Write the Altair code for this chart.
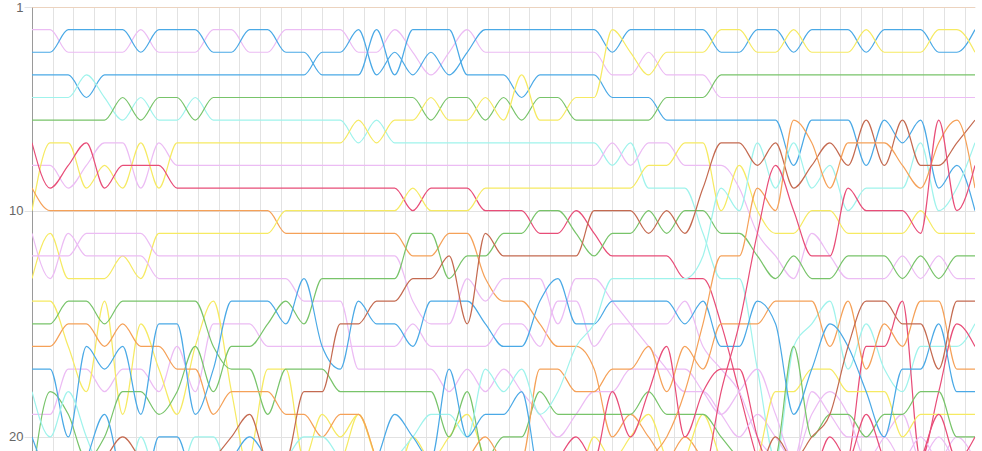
import altair as alt
import pandas as pd

# ---- data: rank of each series at each of 53 steps ----
steps = list(range(53))

peach_a = [1,1,1,1,1,1,1,1,1,1, 1,1,1,1,1,1,1,1,1,1, 1,1,1,1,1,1,1,1,1,1, 1,1,1,1,1,1,1,1,1,1, 1,1,1,1,1,1,1,1,1,1, 1,1,1]
lav_a   = [2,2,3,3,3,3,2,3,3,3, 2,2,3,3,2,2,2,2,3,3, 2,3,4,3,2,3,3,3,3,3, 3,3,4,4,3,4,4,4,5,5, 5,5,5,5,5,5,5,5,5,5, 5,5,5]
blue_a  = [3,3,2,2,2,2,3,2,2,2, 3,3,2,2,3,3,4,4,4,2, 4,2,2,2,4,4,4,5,4,4, 4,4,5,5,5,6,6,6,6,6, 6,6,8,6,6,6,8,6,7,6, 9,8,10]
blue_b  = [4,4,4,5,4,4,4,4,4,4, 4,4,4,4,4,4,3,3,2,4, 3,4,3,4,3,2,2,2,2,2, 2,2,3,2,2,2,2,2,3,3, 2,2,3,2,2,2,3,2,2,2, 3,3,2]
cyan_a  = [5,5,5,4,5,6,5,6,6,5, 6,6,6,6,6,6,6,6,7,6, 7,7,7,7,7,7,7,7,7,7, 7,7,8,7,9,9,9,11,13,13, 17,21,16,15,14,17,15,17,18,16, 16,16,15]
green_a = [6,6,6,6,6,5,6,5,5,6, 5,5,5,5,5,5,5,5,5,5, 5,5,6,5,5,6,5,6,5,5, 6,6,6,6,6,5,5,5,4,4, 4,4,4,4,4,4,4,4,4,4, 4,4,4]
lav_b   = [8,8,9,8,7,7,9,7,8,8, 8,8,8,8,8,8,8,8,8,8, 8,8,8,8,8,8,8,8,8,8, 8,8,7,8,7,7,8,8,8,9, 11,12,13,11,12,13,13,13,12,13, 12,13,13]
yel_a   = [10,7,7,9,8,9,7,9,7,7, 7,7,7,7,7,7,7,7,6,7, 6,6,5,6,6,5,6,4,6,6, 5,5,2,3,4,3,3,3,2,2, 3,3,2,3,3,3,2,3,3,3, 2,2,3]
red_a   = [7,9,8,7,9,8,8,8,9,9, 9,9,9,9,9,9,9,9,9,9, 9,10,9,9,9,10,10,10,11,11, 10,11,12,12,12,12,13,13,15,18, 21,23,23,23,22,21,16,16,14,21, 18,15,16]
ora_a   = [9,10,10,10,10,10,10,10,10,10, 10,10,10,10,11,11,11,11,11,11, 11,12,12,11,11,13,14,14,15,16, 16,17,20,19,20,21,20,21,22,22, 22,22,22,22,22,22,22,22,22,22, 22,22,22]
yel_b   = [13,11,13,13,13,12,13,11,11,11, 11,11,11,11,10,10,10,10,10,10, 10,9,10,10,10,9,9,9,9,9, 9,9,9,9,8,8,7,7,10,8, 10,11,11,10,10,11,11,11,11,10, 11,11,11]
lav_c   = [12,12,12,11,11,11,11,12,12,12, 12,12,12,12,12,12,12,12,12,12, 12,14,15,15,13,14,13,13,13,15, 13,13,14,15,16,17,18,18,19,20, 19,20,21,19,18,19,21,20,19,21, 20,21,21]
lav_d   = [11,13,11,12,12,12,12,13,13,13, 13,13,13,13,13,14,14,14,17,17, 17,17,17,18,17,18,17,18,19,20, 19,18,18,17,17,17,17,18,19,18, 17,19,21,18,19,20,20,20,21,20, 21,20,21]
lav_e   = [19,19,17,17,18,17,17,18,16,18, 15,15,15,16,16,16,16,16,16,16, 16,15,16,16,16,16,15,15,16,14, 14,16,15,15,15,15,14,16,17,18, 20,21,22,22,22,22,22,22,22,22, 22,22,22]
yel_c   = [14,14,16,18,14,19,15,17,19,16, 14,18,22,23,23,22,21,21,19,21, 23,23,22,21,21,21,22,23,23,22, 21,22,23,22,21,22,21,19,21,22, 21,18,18,17,17,18,18,18,20,19, 19,19,19]
yel_d   = [23,23,23,23,23,23,23,23,23,23, 23,22,21,17,17,21,19,20,19,21, 22,20,21,20,19,21,22,22,21,22, 22,20,21,20,19,21,22,23,23,23, 23,23,23,23,23,23,23,23,23,23, 23,23,23]
green_b = [15,15,14,14,15,14,14,14,14,14, 16,17,17,19,17,17,17,18,18,18, 18,18,18,20,18,21,20,20,18,19, 19,19,19,19,18,19,19,19,20,21, 22,21,16,20,19,19,20,19,19,18, 18,20,20]
green_c = [22,18,19,21,20,18,18,19,18,16, 18,16,16,15,14,15,13,13,13,13, 13,11,11,13,12,12,11,11,10,10, 11,12,11,11,10,11,10,10,11,11, 12,13,12,13,13,12,12,12,13,12, 13,12,12]
ora_b   = [16,16,15,15,16,15,16,16,17,17, 19,18,18,18,19,19,20,19,19,21, 23,23,22,22,21,20,21,21,17,17, 18,18,17,17,16,18,16,17,15,15, 15,14,14,14,16,14,17,15,16,14, 14,17,17]
blue_c  = [17,17,20,16,17,16,19,15,15,19, 17,14,14,14,15,13,16,17,14,15, 15,16,14,14,14,15,16,16,14,13, 15,15,14,14,14,14,15,14,16,16, 14,15,19,17,15,16,18,20,17,17, 15,18,18]
cyan_b  = [18,20,18,20,22,23,20,22,22,20, 20,22,23,22,21,20,20,21,22,22, 21,20,19,19,20,17,18,17,19,18, 16,15,13,13,13,13,13,12,9,10, 7,9,7,9,8,10,9,9,9,7, 10,9,7]
blue_d  = [20,22,23,21,19,22,23,20,20,22, 22,21,20,21,22,23,22,21,22,21, 19,20,21,17,20,19,19,18,22,23, 23,23,23,23,23,23,23,23,23,23, 23,23,23,23,23,23,23,23,23,23, 23,23,23]
brown_a = [24,23,22,22,21,20,21,22,22,22, 21,20,19,21,21,18,18,15,15,14, 14,13,13,12,15,11,12,12,12,12, 12,10,10,10,11,10,11,9,7,7, 8,7,9,8,7,8,6,8,6,8, 8,7,6]
ora_c   = [24,24,24,24,24,24,24,24,24,24, 24,24,24,24,24,24,24,24,24,24, 24,24,24,24,24,24,24,24,24,24, 24,24,24,22,21,20,18,15,12,12, 9,10,6,7,9,7,7,7,8,9, 7,6,9]
red_b   = [24,24,24,24,24,24,24,24,24,24, 24,24,24,24,24,24,24,24,24,24, 24,24,24,24,24,24,24,24,24,24, 24,24,24,24,24,24,23,22,18,15, 11,8,10,12,12,9,10,10,10,11, 6,10,8]
red_c   = [24,24,24,24,24,24,24,24,24,24, 24,24,24,24,24,24,24,24,24,24, 24,24,24,24,24,24,24,24,22,21, 20,21,18,20,18,16,20,18,17,17, 20,22,23,22,20,21,19,21,22,21, 19,21,20]
brown_b = [24,24,24,24,24,24,24,24,24,24, 24,24,24,24,24,24,24,24,24,24, 24,24,24,24,24,24,24,24,24,24, 24,24,24,24,24,24,24,24,24,24, 22,20,21,20,19,16,14,14,15,15, 17,14,14]

PEACH, LAV, BLUE, CYAN, GREEN = "#f5c49c", "#ecbcf4", "#4aa9e6", "#9ff3ec", "#78c46a"
YELLOW, RED, ORANGE, BROWN = "#f6ea62", "#e84d78", "#f5a158", "#c46a50"

series = [
    ("s01", PEACH, peach_a), ("s02", LAV, lav_a), ("s03", BLUE, blue_a), ("s04", BLUE, blue_b),
    ("s05", CYAN, cyan_a), ("s06", GREEN, green_a), ("s07", LAV, lav_b), ("s08", YELLOW, yel_a),
    ("s09", RED, red_a), ("s10", ORANGE, ora_a), ("s11", YELLOW, yel_b), ("s12", LAV, lav_c),
    ("s13", LAV, lav_d), ("s14", LAV, lav_e), ("s15", YELLOW, yel_c), ("s16", YELLOW, yel_d),
    ("s17", GREEN, green_b), ("s18", GREEN, green_c), ("s19", ORANGE, ora_b), ("s20", BLUE, blue_c),
    ("s21", CYAN, cyan_b), ("s22", BLUE, blue_d), ("s23", BROWN, brown_a), ("s24", ORANGE, ora_c),
    ("s25", RED, red_b), ("s26", RED, red_c), ("s27", BROWN, brown_b),
]
series_names = [s[0] for s in series]
series_colors = [s[1] for s in series]

rows = []
for name, _, ranks in series:
    for t, r in zip(steps, ranks):
        rows.append({"series": name, "step": t, "rank": r})
df = pd.DataFrame(rows)

grid_values = [k * 8 / 7 for k in range(46)]

chart = alt.Chart(df).mark_line(
    interpolate="monotone", strokeWidth=1.2, clip=True
).encode(
    x=alt.X("step:Q",
            scale=alt.Scale(domain=[0, 52], nice=False, zero=False),
            axis=alt.Axis(values=grid_values, labels=False, ticks=False, domain=False,
                          grid=True, gridColor="#e2e2e2", gridWidth=1, title=None)),
    y=alt.Y("rank:Q",
            scale=alt.Scale(domain=[1, 20.62], reverse=True, nice=False, zero=False),
            axis=alt.Axis(values=[1, 10, 20], title=None, grid=True, gridColor="#e2e2e2",
                          domainColor="#9a9a9a", tickColor="#e2e2e2", tickSize=8,
                          labelColor="#666666", labelFontSize=13, labelFont="Helvetica, Arial, sans-serif",
                          labelPadding=1)),
    color=alt.Color("series:N", scale=alt.Scale(domain=series_names, range=series_colors), legend=None),
    detail="series:N",
).properties(
    width=943, height=444,
    padding={"left": 32, "top": 7, "right": 7, "bottom": 0},
    autosize=alt.AutoSizeParams(type="none"),
).configure_view(stroke=None)

chart.save("out.html", embed_options={"renderer": "svg", "actions": False})
